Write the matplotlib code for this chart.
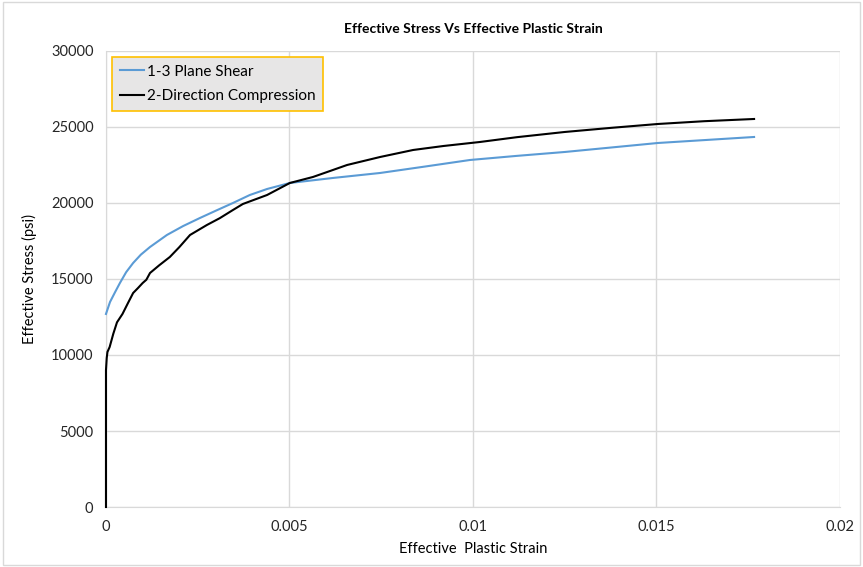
import matplotlib.pyplot as plt
from matplotlib.patches import Rectangle

# Data
shear_strain = [0.0, 0.00011, 0.00025, 0.00038, 0.00055, 0.00074, 0.00095, 0.0012,
                0.00166, 0.0021, 0.00256, 0.003, 0.00346, 0.00392, 0.00439, 0.00501,
                0.0062, 0.00747, 0.0087, 0.00992, 0.0112, 0.0125, 0.01504, 0.01766]
shear_stress = [12700, 13487, 14145, 14737, 15450, 16053, 16600, 17105,
                17895, 18480, 19013, 19500, 20000, 20526, 20921, 21316,
                21650, 21974, 22400, 22829, 23100, 23355, 23947, 24342]

comp_strain = [0.0, 0.0, 0.00002, 0.00004, 0.0001, 0.0002, 0.0003, 0.00045, 0.0006,
               0.00074, 0.00087, 0.001, 0.0011, 0.0012, 0.00145, 0.00174, 0.002,
               0.00229, 0.00275, 0.0031, 0.00346, 0.00373, 0.00439, 0.00501,
               0.00564, 0.0061, 0.00657, 0.00747, 0.00837, 0.0092, 0.01019, 0.0112,
               0.0125, 0.0138, 0.01504, 0.0163, 0.01766]
comp_stress = [0, 9000, 9800, 10200, 10526, 11400, 12150, 12700, 13421,
               14079, 14400, 14737, 14950, 15395, 15900, 16447, 17100,
               17895, 18553, 19000, 19539, 19934, 20526, 21316,
               21711, 22100, 22500, 23026, 23487, 23750, 24013, 24330,
               24671, 24950, 25197, 25380, 25526]

plt.rcParams['font.family'] = ['Lato', 'DejaVu Sans']

fig = plt.figure(figsize=(8.63, 5.67), dpi=100)
ax = fig.add_axes([0.1228, 0.1058, 0.8505, 0.8043])

# Light gray chart border
fig.patches.append(Rectangle((0.004, 0.004), 0.992, 0.992, transform=fig.transFigure,
                             fill=False, edgecolor='#d9d9d9', lw=1))

ax.plot(shear_strain, shear_stress, color='#5b9bd5', lw=1.5, label='1-3 Plane Shear',
        zorder=3, clip_on=False)
ax.plot(comp_strain, comp_stress, color='black', lw=1.5, label='2-Direction Compression',
        zorder=3, clip_on=False)

ax.set_xlim(0, 0.02)
ax.set_ylim(0, 30000)
ax.set_xticks([0, 0.005, 0.01, 0.015, 0.02])
ax.set_xticklabels(['0', '0.005', '0.01', '0.015', '0.02'])
ax.set_yticks(range(0, 30001, 5000))

ax.grid(color='#d9d9d9', lw=1)
ax.set_axisbelow(True)
for s in ['top', 'right']:
    ax.spines[s].set_visible(False)
for s in ['left', 'bottom']:
    ax.spines[s].set_color('#d9d9d9')
    ax.spines[s].set_zorder(1)
ax.tick_params(length=0, labelsize=10.5, colors='#262626', pad=9)

ax.set_title('Effective Stress Vs Effective Plastic Strain', fontsize=10,
             fontweight='bold', pad=13)
ax.set_xlabel('Effective  Plastic Strain', fontsize=10.5, labelpad=6)
ax.set_ylabel('Effective Stress (psi)', fontsize=10.5, labelpad=10)

leg = ax.legend(loc='upper left', fontsize=11, fancybox=False, framealpha=1,
                borderaxespad=0.4, handlelength=1.6, handletextpad=0.2,
                borderpad=0.5, labelspacing=0.7)
leg.get_frame().set_facecolor('#e7e6e6')
leg.get_frame().set_edgecolor('#ffc000')
leg.get_frame().set_linewidth(1.2)
leg.set_zorder(5)

plt.savefig('out.png', dpi=100)
